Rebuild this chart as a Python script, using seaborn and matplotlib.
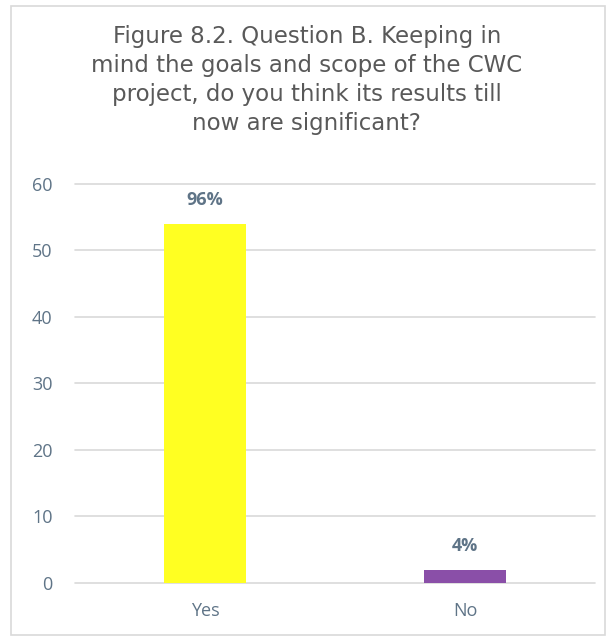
import matplotlib
matplotlib.use('Agg')
import matplotlib.pyplot as plt
import seaborn as sns
import pandas as pd
from matplotlib.patches import Rectangle

# Veriler
categories = ['Yes', 'No']
counts = [54, 2]
pct_labels = ['96%', '4%']
bar_colors = ['#FFFF22', '#8A4FA8']

df = pd.DataFrame({'Answer': categories, 'Count': counts})

sns.set_style('white')
plt.rcParams['font.family'] = ['Open Sans', 'DejaVu Sans']

fig = plt.figure(figsize=(6.11, 6.41), dpi=100)
ax = fig.add_axes([0.1227, 0.0905, 0.851, 0.6225])

sns.barplot(data=df, x='Answer', y='Count', hue='Answer', palette=bar_colors,
            width=0.315, saturation=1, linewidth=0, legend=False, ax=ax, zorder=3)

ax.set_ylim(0, 60)
ax.set_yticks(range(0, 61, 10))
ax.grid(axis='y', color='#D9D9D9', linewidth=1.2, zorder=0)
ax.set_axisbelow(True)
for gl in ax.get_ygridlines():
    gl.set_clip_on(False)
for s in ax.spines.values():
    s.set_visible(False)
ax.tick_params(axis='both', length=0, labelsize=13, labelcolor='#5F7487')
ax.tick_params(axis='y', pad=16)
ax.tick_params(axis='x', pad=14)
ax.set_xlabel('')
ax.set_ylabel('')

# Yüzde etiketleri
for i, (v, lab) in enumerate(zip(counts, pct_labels)):
    ax.annotate(lab, (i, v), xytext=(0, 17), textcoords='offset points',
                ha='center', va='center', fontsize=13, fontweight='bold',
                color='#5F7487')

# Başlık
fig.text(0.502, 0.875,
         'Figure 8.2. Question B. Keeping in\nmind the goals and scope of the CWC\n'
         'project, do you think its results till\nnow are significant?',
         ha='center', va='center', fontsize=16.5, color='#595959',
         family='DejaVu Sans', linespacing=1.32)

# Çerçeve
fig.patches.append(Rectangle((11 / 611, 1 - 635 / 641), 594 / 611, 629 / 641,
                             transform=fig.transFigure, fill=False,
                             edgecolor='#D9D9D9', linewidth=1.2))

fig.savefig('out.png', dpi=100)
